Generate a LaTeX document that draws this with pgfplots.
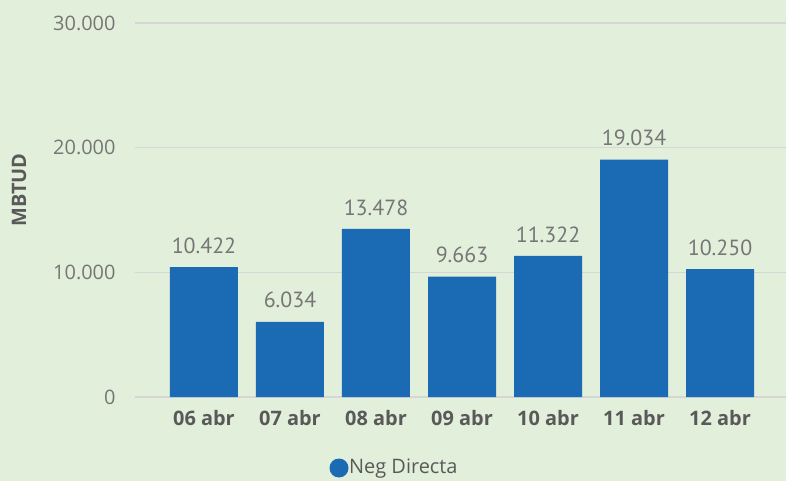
\documentclass[border=0pt]{standalone}
\usepackage{pgfplots}
\pgfplotsset{compat=1.18}
\usepackage{fontspec}
\setmainfont{Open Sans}
\newfontfamily\lblfont{PT Sans}
\definecolor{bg}{HTML}{E2EFDA}
\definecolor{barc}{HTML}{1A6BB3}
\definecolor{gridc}{HTML}{D6D6D6}
\definecolor{tickc}{HTML}{767676}
\definecolor{boldc}{HTML}{595959}
\begin{document}
\begin{tikzpicture}
\fill[bg] (-135bp,-84bp) rectangle (651bp,397bp);
\useasboundingbox (-135bp,-84bp) rectangle (651bp,397bp);
\begin{axis}[
  at={(0,0)}, anchor=south west,
  scale only axis,
  width=651bp, height=374bp,
  xmin=-0.802, xmax=6.767,
  ymin=0, ymax=30000,
  ytick={0,10000,20000,30000},
  scaled y ticks=false,
  xtick=data,
  xticklabels={06 abr,07 abr,08 abr,09 abr,10 abr,11 abr,12 abr},
  axis line style={draw=none},
  axis x line*=bottom,
  major tick length=0pt,
  ymajorgrids, grid style={gridc, line width=1.2bp},
  /pgf/number format/.cd, 1000 sep={.}, assume math mode=true,
  /pgfplots/.cd,
  yticklabel style={font=\fontsize{20}{24}\selectfont, text=tickc, xshift=-16bp},
  xticklabel style={font=\fontsize{20}{24}\selectfont\bfseries, text=boldc, yshift=-10bp},
  ylabel={MBTUD},
  ylabel style={font=\fontsize{20}{24}\selectfont\bfseries, text=boldc, at={(-116bp,207bp)}, anchor=center},
  ybar, bar width=68bp,
  nodes near coords,
  every node near coord/.append style={font=\lblfont\fontsize{22}{24}\selectfont, text=tickc, yshift=10bp},
  clip=false,
]
\addplot[fill=barc, draw=none] coordinates {(0,10422) (1,6034) (2,13478) (3,9663) (4,11322) (5,19034) (6,10250)};
\end{axis}
\fill[barc] (204bp,-71bp) circle (9.5bp);
\node[anchor=west, inner sep=0pt, font=\fontsize{20}{24}\selectfont, text=boldc] at (214bp,-72bp) {Neg Directa};
\end{tikzpicture}
\end{document}
